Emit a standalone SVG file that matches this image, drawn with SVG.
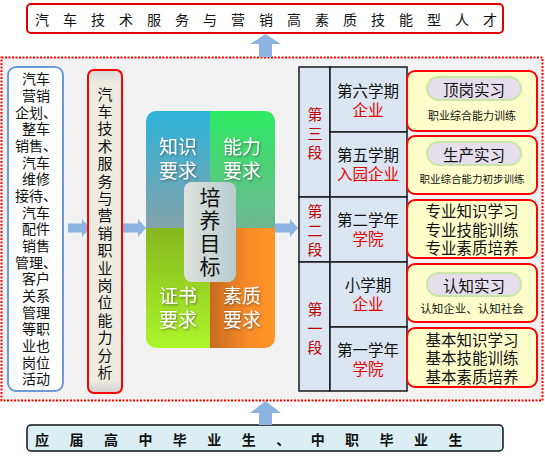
<svg xmlns="http://www.w3.org/2000/svg" width="545" height="460" viewBox="0 0 545 460">
<style>
.t{font-family:"Noto Sans CJK SC","Noto Sans",sans-serif;fill:#111;dominant-baseline:central;text-anchor:middle}
.red{fill:#e00000}
.dred{fill:#c00000}
.wt{fill:#fff;filter:url(#sh)}
.arr{fill:#8db3e2}
.cell{fill:#dce6f2;stroke:#1a1a1a;stroke-width:1.5}
.ybox{fill:#ffffcc;stroke:#ff0000;stroke-width:2}
.pill{fill:#e5dfec;stroke:#c9e6a8;stroke-width:2}
</style>
<defs>
<filter id="sh" x="-20%" y="-20%" width="140%" height="140%"><feDropShadow dx="1" dy="1.2" stdDeviation="0.8" flood-color="#333" flood-opacity="0.6"/></filter>
<linearGradient id="gTL" x1="0" y1="0" x2="0" y2="1"><stop offset="0" stop-color="#2db3da"/><stop offset="1" stop-color="#84a3ab"/></linearGradient>
<linearGradient id="gTR" x1="0" y1="0" x2="0" y2="1"><stop offset="0" stop-color="#2eea62"/><stop offset="1" stop-color="#6fb792"/></linearGradient>
<linearGradient id="gBL" x1="0" y1="0" x2="0" y2="1"><stop offset="0" stop-color="#86b81f"/><stop offset="1" stop-color="#acf52a"/></linearGradient>
<linearGradient id="gBR" x1="0" y1="0" x2="1" y2="0"><stop offset="0" stop-color="#c86a20"/><stop offset="0.6" stop-color="#f88c26"/><stop offset="1" stop-color="#ff9528"/></linearGradient>
<linearGradient id="gC" x1="0" y1="0" x2="1" y2="0"><stop offset="0" stop-color="#dfe3dc"/><stop offset="1" stop-color="#b8ccd0"/></linearGradient>
<linearGradient id="gA" x1="0" y1="0" x2="0" y2="1"><stop offset="0" stop-color="#d6d6d6"/><stop offset="0.04" stop-color="#eeece1"/><stop offset="0.96" stop-color="#eeece1"/><stop offset="1" stop-color="#cfcfcf"/></linearGradient>
<clipPath id="qc"><rect x="146" y="111" width="129" height="237" rx="10"/></clipPath>
</defs>

<rect x="1.5" y="57.5" width="541" height="343" fill="#f2f2f2" stroke="#ff0000" stroke-width="2" stroke-dasharray="2 1.5"/>

<g id="top-banner">
<rect x="27" y="4" width="476" height="29" rx="4" fill="#fff" stroke="#e00000" stroke-width="2"/>
<text class="t" y="18.5" font-size="14" x="42 70 98 126 154 182 210 238 266 294 322 350 378 406 434 462 490">汽车技术服务与营销高素质技能型人才</text>
</g>

<g id="bottom-banner">
<rect x="27" y="425" width="476" height="26" rx="4" fill="#daeef3" stroke="#111" stroke-width="1.5"/>
<text class="t" y="439" font-size="14" font-weight="bold" x="42 76.5 111 145.4 179.8 214.3 248.8 283.2 317.7 352.1 386.6 421 455.5 490">应届高中毕业生、中职毕业生</text>
</g>

<g id="connectors">
<polygon class="arr" points="265.5,34 281,44 272,44 272,57 259,57 259,44 250,44"/>
<polygon class="arr" points="265.5,401 281,413 272,413 272,425 259,425 259,413 250,413"/>
<polygon class="arr" points="68,223.5 82,223.5 82,219 90,228 82,237 82,232.5 68,232.5"/>
<polygon class="arr" points="123,223.5 138,223.5 138,219 146,228 138,237 138,232.5 123,232.5"/>
<polygon class="arr" points="275,223.5 290,223.5 290,219 298,228 290,237 290,232.5 275,232.5"/>
</g>

<g id="left-box">
<rect x="8" y="67" width="55" height="324" rx="8" fill="#fff" stroke="#6a9bd8" stroke-width="2"/>
<text class="t" font-size="14" x="36" y="78.3">汽车</text>
<text class="t" font-size="14" x="36" y="95">营销</text>
<text class="t" font-size="14" x="36" y="111.6">企划、</text>
<text class="t" font-size="14" x="36" y="128.3">整车</text>
<text class="t" font-size="14" x="36" y="145">销售、</text>
<text class="t" font-size="14" x="36" y="161.6">汽车</text>
<text class="t" font-size="14" x="36" y="178.3">维修</text>
<text class="t" font-size="14" x="36" y="195">接待、</text>
<text class="t" font-size="14" x="36" y="211.6">汽车</text>
<text class="t" font-size="14" x="36" y="228.3">配件</text>
<text class="t" font-size="14" x="36" y="245">销售</text>
<text class="t" font-size="14" x="36" y="261.6">管理、</text>
<text class="t" font-size="14" x="36" y="278.3">客户</text>
<text class="t" font-size="14" x="36" y="295">关系</text>
<text class="t" font-size="14" x="36" y="311.6">管理</text>
<text class="t" font-size="14" x="36" y="328.3">等职</text>
<text class="t" font-size="14" x="36" y="345">业也</text>
<text class="t" font-size="14" x="36" y="361.6">岗位</text>
<text class="t" font-size="14" x="36" y="378.3">活动</text>
</g>

<g id="analysis-box">
<rect x="88" y="70" width="34" height="323" rx="6" fill="url(#gA)" stroke="#ff0000" stroke-width="2"/>
<text class="t" font-size="15" x="105" y="93">汽</text>
<text class="t" font-size="15" x="105" y="110.4">车</text>
<text class="t" font-size="15" x="105" y="127.8">技</text>
<text class="t" font-size="15" x="105" y="145.2">术</text>
<text class="t" font-size="15" x="105" y="162.6">服</text>
<text class="t" font-size="15" x="105" y="180">务</text>
<text class="t" font-size="15" x="105" y="197.4">与</text>
<text class="t" font-size="15" x="105" y="214.8">营</text>
<text class="t" font-size="15" x="105" y="232.2">销</text>
<text class="t" font-size="15" x="105" y="249.6">职</text>
<text class="t" font-size="15" x="105" y="267">业</text>
<text class="t" font-size="15" x="105" y="284.4">岗</text>
<text class="t" font-size="15" x="105" y="301.8">位</text>
<text class="t" font-size="15" x="105" y="319.2">能</text>
<text class="t" font-size="15" x="105" y="336.6">力</text>
<text class="t" font-size="15" x="105" y="354">分</text>
<text class="t" font-size="15" x="105" y="371.4">析</text>
</g>

<g id="goal-quadrant">
<g clip-path="url(#qc)">
<rect x="146" y="111" width="64" height="117" fill="url(#gTL)"/>
<rect x="210" y="111" width="65" height="117" fill="url(#gTR)"/>
<rect x="146" y="228" width="64" height="120" fill="url(#gBL)"/>
<rect x="210" y="228" width="65" height="120" fill="url(#gBR)"/>
</g>
<text class="t wt" font-size="19" x="178" y="145">知识</text>
<text class="t wt" font-size="19" x="178" y="169">要求</text>
<text class="t wt" font-size="19" x="242" y="145">能力</text>
<text class="t wt" font-size="19" x="242" y="169">要求</text>
<text class="t wt" font-size="19" x="178" y="294">证书</text>
<text class="t wt" font-size="19" x="178" y="318">要求</text>
<text class="t wt" font-size="19" x="242" y="294">素质</text>
<text class="t wt" font-size="19" x="242" y="318">要求</text>
<rect x="184" y="182" width="52" height="100" rx="8" fill="url(#gC)"/>
<text class="t" font-size="21" x="210" y="196">培</text>
<text class="t" font-size="21" x="210" y="219">养</text>
<text class="t" font-size="21" x="210" y="242">目</text>
<text class="t" font-size="21" x="210" y="265">标</text>
</g>

<g id="stage-table">
<rect class="cell" x="299" y="67" width="31" height="130"/>
<rect class="cell" x="299" y="197" width="31" height="65"/>
<rect class="cell" x="299" y="262" width="31" height="129"/>
<rect class="cell" x="330" y="67" width="77" height="65"/>
<rect class="cell" x="330" y="132" width="77" height="65"/>
<rect class="cell" x="330" y="197" width="77" height="65"/>
<rect class="cell" x="330" y="262" width="77" height="65"/>
<rect class="cell" x="330" y="327" width="77" height="64"/>
<text class="t dred" font-size="15" x="315" y="113">第</text>
<text class="t dred" font-size="15" x="315" y="132">三</text>
<text class="t dred" font-size="15" x="315" y="151">段</text>
<text class="t dred" font-size="15" x="315" y="210">第</text>
<text class="t dred" font-size="15" x="315" y="229">二</text>
<text class="t dred" font-size="15" x="315" y="248">段</text>
<text class="t dred" font-size="15" x="315" y="308">第</text>
<text class="t dred" font-size="15" x="315" y="327">一</text>
<text class="t dred" font-size="15" x="315" y="346">段</text>
<text class="t" font-size="15.5" x="368" y="90">第六学期</text>
<text class="t red" font-size="15.5" x="368" y="109">企业</text>
<text class="t" font-size="15.5" x="368" y="154">第五学期</text>
<text class="t red" font-size="15.5" x="368" y="173">入园企业</text>
<text class="t" font-size="15.5" x="368" y="219">第二学年</text>
<text class="t red" font-size="15.5" x="368" y="238">学院</text>
<text class="t" font-size="15.5" x="368" y="284">小学期</text>
<text class="t red" font-size="15.5" x="368" y="303">企业</text>
<text class="t" font-size="15.5" x="368" y="349">第一学年</text>
<text class="t red" font-size="15.5" x="368" y="368">学院</text>
</g>

<g id="practice-1">
<rect class="ybox" x="407" y="71" width="130" height="60" rx="8"/>
<rect class="pill" x="427" y="77" width="94" height="23" rx="11.5"/>
<text class="t" font-size="15.5" x="474" y="88.5">顶岗实习</text>
<text class="t" font-size="11" x="472" y="115">职业综合能力训练</text>
</g>
<g id="practice-2">
<rect class="ybox" x="407" y="136" width="130" height="58" rx="8"/>
<rect class="pill" x="427" y="142" width="94" height="23" rx="11.5"/>
<text class="t" font-size="15.5" x="474" y="153.5">生产实习</text>
<text class="t" font-size="10.5" x="472" y="178">职业综合能力初步训练</text>
</g>
<g id="practice-3">
<rect class="ybox" x="407" y="200" width="130" height="58" rx="8"/>
<text class="t" font-size="15.5" x="472" y="210">专业知识学习</text>
<text class="t" font-size="15.5" x="472" y="228.5">专业技能训练</text>
<text class="t" font-size="15.5" x="472" y="247">专业素质培养</text>
</g>
<g id="practice-4">
<rect class="ybox" x="407" y="264" width="130" height="58" rx="8"/>
<rect class="pill" x="427" y="273" width="94" height="23" rx="11.5"/>
<text class="t" font-size="15.5" x="474" y="284.5">认知实习</text>
<text class="t" font-size="11.5" x="472" y="308">认知企业、认知社会</text>
</g>
<g id="practice-5">
<rect class="ybox" x="407" y="328" width="130" height="59" rx="8"/>
<text class="t" font-size="15.5" x="472" y="338.5">基本知识学习</text>
<text class="t" font-size="15.5" x="472" y="357">基本技能训练</text>
<text class="t" font-size="15.5" x="472" y="375.5">基本素质培养</text>
</g>
</svg>
